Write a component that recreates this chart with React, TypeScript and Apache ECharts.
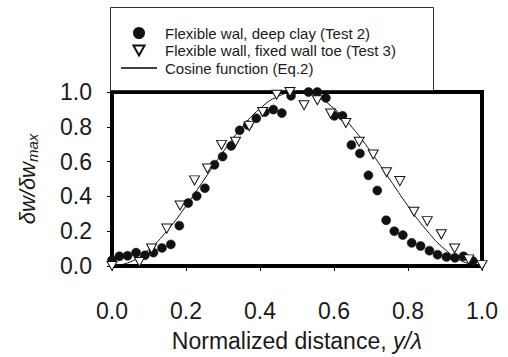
import React, { useEffect, useRef } from "react";
import * as echarts from "echarts";

const test2X = [0.0, 0.02, 0.042, 0.065, 0.089, 0.112, 0.135, 0.159, 0.182, 0.206, 0.229, 0.251, 0.277, 0.299, 0.322, 0.345, 0.367, 0.39, 0.413, 0.436, 0.459, 0.484, 0.531, 0.555, 0.578, 0.601, 0.623, 0.647, 0.67, 0.693, 0.717, 0.741, 0.763, 0.786, 0.81, 0.834, 0.858, 0.88, 0.904, 0.927, 0.95, 0.975];
const test2Y = [0.034, 0.056, 0.059, 0.077, 0.062, 0.077, 0.104, 0.124, 0.232, 0.362, 0.402, 0.447, 0.582, 0.629, 0.69, 0.78, 0.81, 0.849, 0.885, 0.899, 0.879, 0.978, 1.0, 1.0, 0.966, 0.863, 0.863, 0.696, 0.647, 0.521, 0.434, 0.263, 0.2, 0.178, 0.133, 0.115, 0.088, 0.065, 0.052, 0.047, 0.056, 0.029];

const test3X = [0.0, 0.074, 0.107, 0.148, 0.184, 0.223, 0.258, 0.296, 0.334, 0.371, 0.407, 0.445, 0.481, 0.519, 0.555, 0.591, 0.632, 0.668, 0.706, 0.742, 0.778, 0.816, 0.852, 0.89, 0.926, 0.964, 1.0];
const test3Y = [0.0, 0.023, 0.101, 0.215, 0.348, 0.492, 0.56, 0.696, 0.714, 0.804, 0.885, 0.984, 1.0, 0.924, 0.953, 0.876, 0.822, 0.714, 0.641, 0.539, 0.488, 0.312, 0.258, 0.182, 0.101, 0.038, 0.005];

const cosX = [0.0, 0.05, 0.1, 0.15, 0.2, 0.25, 0.3, 0.35, 0.4, 0.45, 0.5, 0.55, 0.6, 0.65, 0.7, 0.75, 0.8, 0.85, 0.9, 0.95, 1.0];
const cosY = [0.0, 0.024, 0.095, 0.206, 0.345, 0.5, 0.655, 0.794, 0.905, 0.976, 1.0, 0.976, 0.905, 0.794, 0.655, 0.5, 0.345, 0.206, 0.095, 0.024, 0.0];

const seriesNames = [
  "Flexible wal, deep clay (Test 2)",
  "Flexible wall, fixed wall toe (Test 3)",
  "Cosine function (Eq.2)",
];

const FONT = "'Liberation Sans', Arial, sans-serif";
const TXT = "#1a1a1a";

const pair = (xs: number[], ys: number[]) => xs.map((x, i) => [x, ys[i]]);

export default function App() {
  const ref = useRef<HTMLDivElement>(null);
  useEffect(() => {
    if (!ref.current) return;
    const chart = echarts.init(ref.current, undefined, { renderer: "svg" });
    chart.setOption({
      animation: false,
      backgroundColor: "#fff",
      textStyle: { fontFamily: FONT },
      grid: {
        left: 112,
        right: 26,
        top: 92,
        bottom: 80,
        show: true,
        borderColor: "#000",
        borderWidth: 4,
        backgroundColor: "transparent",
        z: 1,
      },
      graphic: [
        {
          type: "rect",
          z: 2,
          shape: { x: 110.5, y: 7.5, width: 323, height: 83 },
          style: { fill: "#fff", stroke: "#333", lineWidth: 1 },
        },
      ],
      legend: {
        orient: "vertical",
        left: 121,
        top: 25.5,
        padding: 0,
        itemWidth: 36,
        itemHeight: 10,
        itemGap: 2.5,
        z: 6,
        textStyle: { fontFamily: FONT, fontSize: 15, color: TXT, padding: [0, 0, 0, 3] },
        data: [
          { name: seriesNames[0], icon: "circle" },
          { name: seriesNames[1] },
          { name: seriesNames[2], icon: "path://M0,0 L36,0 L36,1.4 L0,1.4 Z", itemStyle: { color: "#000" } },
        ],
      },
      xAxis: {
        type: "value",
        min: 0,
        max: 1,
        interval: 0.2,
        name: "Normalized distance, {i|y/λ}",
        nameLocation: "middle",
        nameGap: 63,
        nameTextStyle: {
          fontFamily: FONT,
          fontSize: 23,
          color: TXT,
          rich: { i: { fontStyle: "italic", fontFamily: FONT, fontSize: 23, color: TXT } },
        },
        axisLine: { show: false },
        axisTick: { show: true, length: 5, lineStyle: { color: "#000", width: 1 } },
        axisLabel: {
          margin: 33,
          fontSize: 23,
          color: TXT,
          fontFamily: FONT,
          formatter: (v: number) => v.toFixed(1),
        },
        splitLine: { show: false },
      },
      yAxis: {
        type: "value",
        min: 0,
        max: 1,
        interval: 0.2,
        name: "{a|δw/δw}{b|max}",
        nameLocation: "middle",
        nameGap: 72,
        nameTextStyle: {
          rich: {
            a: { fontStyle: "italic", fontFamily: FONT, fontSize: 22, color: TXT },
            b: { fontStyle: "italic", fontFamily: FONT, fontSize: 15, color: TXT, padding: [10, 0, 0, 0] },
          },
        },
        axisLine: { show: false },
        axisTick: { show: true, length: 5, lineStyle: { color: "#000", width: 1 } },
        axisLabel: {
          margin: 20,
          fontSize: 23,
          color: TXT,
          fontFamily: FONT,
          formatter: (v: number) => v.toFixed(1),
        },
        splitLine: { show: false },
      },
      series: [
        {
          name: seriesNames[0],
          type: "scatter",
          z: 5,
          clip: false,
          symbol: "circle",
          symbolSize: 9,
          itemStyle: { color: "#111", borderColor: "#111", borderWidth: 0.5, opacity: 1 },
          data: pair(test2X, test2Y),
        },
        {
          name: seriesNames[1],
          type: "scatter",
          z: 5,
          clip: false,
          symbol: "path://M0,0 L10,0 L5,9 Z",
          symbolSize: [10, 9],
          itemStyle: { color: "#fff", borderColor: "#111", borderWidth: 1, opacity: 1 },
          data: pair(test3X, test3Y),
        },
        {
          name: seriesNames[2],
          type: "line",
          z: 4,
          smooth: true,
          symbol: "none",
          showSymbol: false,
          lineStyle: { color: "#111", width: 1 },
          itemStyle: { color: "#111" },
          data: pair(cosX, cosY),
        },
      ],
    });
    return () => chart.dispose();
  }, []);
  return (
    <div
      ref={ref}
      style={{ position: "fixed", left: 0, top: 0, width: 508, height: 357, background: "#fff" }}
    />
  );
}
